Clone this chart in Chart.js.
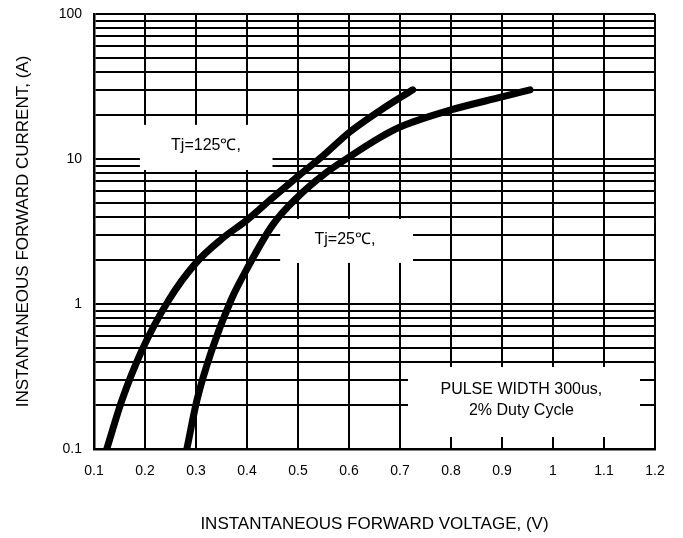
<!DOCTYPE html>
<html>
<head>
<meta charset="utf-8">
<script src="https://cdn.jsdelivr.net/npm/chart.js@4"></script>
<style>
  html, body { margin: 0; padding: 0; background: #fff; }
  #wrap { width: 683px; height: 538px; }
</style>
</head>
<body>
<div id="wrap"><canvas id="chart" width="683" height="538"></canvas></div>
<script>
// forward voltage (V) vs forward current (A)
const voltage125 = [0.125, 0.155, 0.194, 0.247, 0.3, 0.35, 0.4, 0.45, 0.5, 0.55, 0.6, 0.66, 0.7, 0.725];
const current125 = [0.1, 0.218, 0.48, 1.07, 1.92, 2.8, 3.8, 5.4, 7.6, 10.6, 15.2, 21.5, 26.5, 30];
const voltage25 = [0.282, 0.302, 0.331, 0.369, 0.4, 0.45, 0.5, 0.55, 0.6, 0.66, 0.7, 0.8, 0.9, 0.955];
const current25 = [0.1, 0.218, 0.48, 1.07, 1.75, 3.5, 5.5, 7.8, 10.3, 14, 16.6, 21.8, 26.8, 30];

const xTicks = [0.1, 0.2, 0.3, 0.4, 0.5, 0.6, 0.7, 0.8, 0.9, 1, 1.1, 1.2];
const yLabels = [0.1, 1, 10, 100];
const yGrid = [0.1, 0.2, 0.3, 0.4, 0.5, 0.6, 0.7, 0.8, 0.9,
               1, 2, 3, 4, 5, 6, 7, 8, 9,
               10, 20, 30, 40, 50, 60, 70, 80, 90, 100];

function toPoints(xs, ys) {
    return xs.map((x, i) => ({ x: x, y: ys[i] }));
}

// white boxes that cut the grid, with their notes
const notes = [
    { box: [0.19, 0.45, 17.2, 8.4], lines: ['Tj=125\u2103,'], at: [0.3196, 12.3] },
    { box: [0.465, 0.7255, 3.86, 1.92], lines: ['Tj=25\u2103,'], at: [0.592, 2.76] },
    { box: [0.7157, 1.1706, 0.368, 0.121], lines: ['PULSE WIDTH 300us,', '2% Duty Cycle'], at: [0.938, 0.218] }
];

const notesPlugin = {
    id: 'notes',
    beforeDatasetsDraw(chart) {
        const ctx = chart.ctx;
        const xs = chart.scales.x, ys = chart.scales.y;
        ctx.save();
        notes.forEach(n => {
            const x1 = xs.getPixelForValue(n.box[0]), x2 = xs.getPixelForValue(n.box[1]);
            const y1 = ys.getPixelForValue(n.box[2]), y2 = ys.getPixelForValue(n.box[3]);
            ctx.fillStyle = '#fff';
            ctx.fillRect(x1, y1, x2 - x1, y2 - y1);
            ctx.fillStyle = '#000';
            ctx.font = '16px "Liberation Sans", Arial, sans-serif';
            ctx.textAlign = 'center';
            ctx.textBaseline = 'middle';
            const cx = xs.getPixelForValue(n.at[0]), cy = ys.getPixelForValue(n.at[1]);
            const lh = 21;
            n.lines.forEach((t, i) => {
                ctx.fillText(t, cx, cy + (i - (n.lines.length - 1) / 2) * lh);
            });
        });
        ctx.restore();
    }
};

const curveStyle = {
    showLine: true,
    borderColor: '#000',
    borderWidth: 7,
    pointRadius: 0,
    cubicInterpolationMode: 'monotone',
    borderCapStyle: 'round'
};

new Chart(document.getElementById('chart'), {
    type: 'scatter',
    data: {
        datasets: [
            Object.assign({ label: 'Tj=125', data: toPoints(voltage125, current125) }, curveStyle),
            Object.assign({ label: 'Tj=25', data: toPoints(voltage25, current25) }, curveStyle)
        ]
    },
    options: {
        responsive: false,
        animation: false,
        layout: { padding: { top: 14, right: 28, left: 0, bottom: 0 } },
        plugins: { legend: { display: false }, tooltip: { enabled: false } },
        scales: {
            x: {
                type: 'linear',
                min: 0.1,
                max: 1.2,
                afterBuildTicks: s => { s.ticks = xTicks.map(v => ({ value: v })); },
                afterFit: s => { s.height = 89; },
                grid: { color: '#000', lineWidth: 2, drawTicks: false },
                border: { color: '#000', width: 2.5 },
                ticks: {
                    color: '#000',
                    padding: 14,
                    font: { size: 14, family: '"Liberation Sans", Arial, sans-serif' },
                    callback: v => String(Number(v.toFixed(1)))
                },
                title: {
                    display: true,
                    text: 'INSTANTANEOUS FORWARD VOLTAGE, (V)',
                    color: '#000',
                    font: { size: 17, family: '"Liberation Sans", Arial, sans-serif' },
                    padding: { top: 0, bottom: 3 }
                }
            },
            y: {
                type: 'logarithmic',
                min: 0.1,
                max: 100,
                afterBuildTicks: s => { s.ticks = yGrid.map(v => ({ value: v })); },
                afterFit: s => { s.width = 94; s.paddingTop = 0; s.paddingBottom = 0; },
                grid: { color: '#000', lineWidth: 2, drawTicks: false },
                border: { color: '#000', width: 2.5 },
                ticks: {
                    color: '#000',
                    padding: 12,
                    autoSkip: false,
                    font: { size: 14, family: '"Liberation Sans", Arial, sans-serif' },
                    callback: v => yLabels.some(l => Math.abs(l - v) < 1e-9) ? String(v) : ''
                },
                title: {
                    display: true,
                    text: 'INSTANTANEOUS FORWARD CURRENT, (A)',
                    color: '#000',
                    font: { size: 17, family: '"Liberation Sans", Arial, sans-serif' },
                    padding: { top: 13, bottom: 0 }
                }
            }
        }
    },
    plugins: [notesPlugin]
});
</script>
</body>
</html>
